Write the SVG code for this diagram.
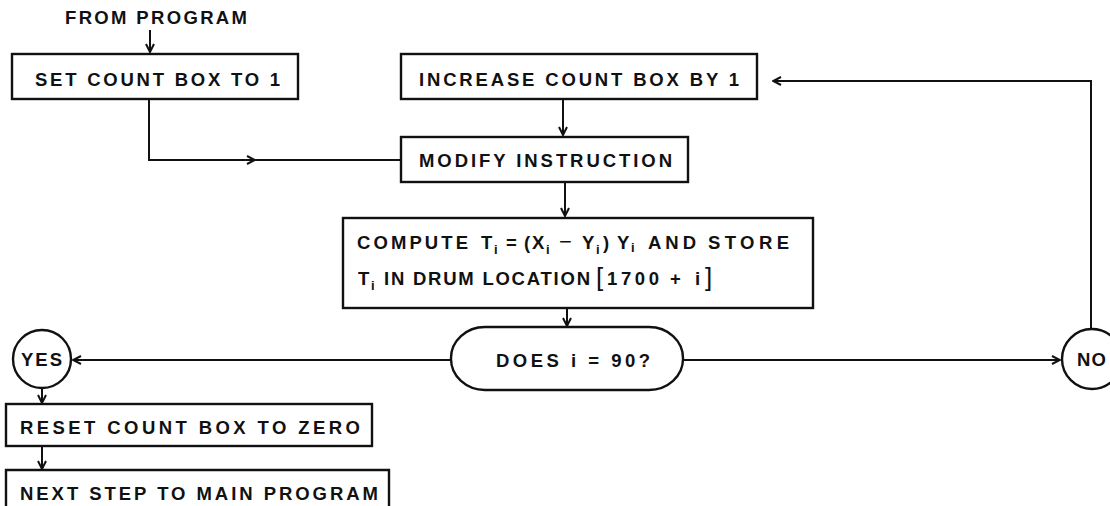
<svg xmlns="http://www.w3.org/2000/svg" width="1110" height="506" viewBox="0 0 1110 506">
  <style>
    .box { fill: none; stroke: #111; stroke-width: 2.4; }
    .wire { fill: none; stroke: #111; stroke-width: 2; }
    .lbl { font-family: "Liberation Sans", Arial, sans-serif; font-weight: bold; font-size: 18.5px; fill: #111; }
    .sub { font-size: 13px; }
    .brk { font-size: 26px; font-weight: normal; }
  </style>
  <defs>
    <marker id="arr" viewBox="0 0 10 10" refX="9" refY="5" markerWidth="10" markerHeight="10" markerUnits="userSpaceOnUse" orient="auto">
      <path d="M1,1 L9,5 L1,9" fill="none" stroke="#111" stroke-width="2"/>
    </marker>
  </defs>
  <rect width="1110" height="506" fill="#fff"/>

  <!-- entry label -->
  <g id="entry">
    <text class="lbl" x="65" y="24" font-size="17" textLength="182" lengthAdjust="spacing">FROM PROGRAM</text>
  </g>

  <!-- connectors -->
  <g id="connectors">
    <path class="wire" d="M150,30 V52" marker-end="url(#arr)"/>
    <path class="wire" d="M149,99 V160 H401"/>
    <path class="wire" d="M238,160 H255" marker-end="url(#arr)"/>
    <path class="wire" d="M563,99 V135" marker-end="url(#arr)"/>
    <path class="wire" d="M565,182 V216" marker-end="url(#arr)"/>
    <path class="wire" d="M567,308 V326" marker-end="url(#arr)"/>
    <path class="wire" d="M451,360 H73" marker-end="url(#arr)"/>
    <path class="wire" d="M683,360 H1060" marker-end="url(#arr)"/>
    <path class="wire" d="M1091,329 V81 H773" marker-end="url(#arr)"/>
    <path class="wire" d="M42,388 V403" marker-end="url(#arr)"/>
    <path class="wire" d="M42,446 V469" marker-end="url(#arr)"/>
  </g>

  <g id="set-count">
    <rect class="box" x="12" y="54" width="286" height="45"/>
    <text class="lbl" x="35" y="86" textLength="245" lengthAdjust="spacing">SET COUNT BOX TO 1</text>
  </g>

  <g id="increase-count">
    <rect class="box" x="401" y="54" width="356" height="45"/>
    <text class="lbl" x="419" y="86" textLength="320" lengthAdjust="spacing">INCREASE COUNT BOX BY 1</text>
  </g>

  <g id="modify-instruction">
    <rect class="box" x="401" y="137" width="287" height="45"/>
    <text class="lbl" x="419" y="167" textLength="253" lengthAdjust="spacing">MODIFY INSTRUCTION</text>
  </g>

  <g id="compute">
    <rect class="box" x="343" y="218" width="470" height="90"/>
    <text class="lbl" y="249"><tspan x="357" textLength="111" lengthAdjust="spacing">COMPUTE</tspan><tspan x="481">T</tspan><tspan class="sub" x="494" dy="5">i</tspan><tspan x="506" dy="-5">=</tspan><tspan x="524">(</tspan><tspan x="532">X</tspan><tspan class="sub" x="546" dy="5">i</tspan><tspan x="559" dy="-5" font-size="22" font-weight="normal">−</tspan><tspan x="582">Y</tspan><tspan class="sub" x="596" dy="5">i</tspan><tspan x="603" dy="-5">)</tspan><tspan x="617">Y</tspan><tspan class="sub" x="631" dy="3">i</tspan><tspan x="648" dy="-3" textLength="48" lengthAdjust="spacing">AND</tspan><tspan x="708" textLength="81" lengthAdjust="spacing">STORE</tspan></text>
    <text class="lbl" y="285"><tspan x="358">T</tspan><tspan class="sub" x="371" dy="5">i</tspan><tspan x="384" dy="-5" textLength="206" lengthAdjust="spacing">IN DRUM LOCATION</tspan><tspan class="brk" x="596" dy="1">[</tspan><tspan x="607" dy="-1" textLength="52" lengthAdjust="spacing">1700</tspan><tspan x="670">+</tspan><tspan x="695">i</tspan><tspan class="brk" x="705" dy="1">]</tspan></text>
  </g>

  <g id="decision">
    <rect class="box" x="451" y="327" width="232" height="63" rx="34" ry="31"/>
    <text class="lbl" x="496" y="367" textLength="154" lengthAdjust="spacing">DOES i = 90?</text>
  </g>

  <g id="yes">
    <circle class="box" cx="42" cy="359" r="29"/>
    <text class="lbl" x="21" y="366" textLength="41" lengthAdjust="spacing">YES</text>
  </g>

  <g id="no">
    <circle class="box" cx="1092" cy="359" r="30"/>
    <text class="lbl" x="1077" y="366" textLength="29" lengthAdjust="spacing">NO</text>
  </g>

  <g id="reset-count">
    <rect class="box" x="6" y="404" width="366" height="42"/>
    <text class="lbl" x="20" y="434" textLength="340" lengthAdjust="spacing">RESET COUNT BOX TO ZERO</text>
  </g>

  <g id="next-step">
    <path class="box" d="M6,508 V470 H389 V508"/>
    <text class="lbl" x="20" y="500" textLength="358" lengthAdjust="spacing">NEXT STEP TO MAIN PROGRAM</text>
  </g>
</svg>
